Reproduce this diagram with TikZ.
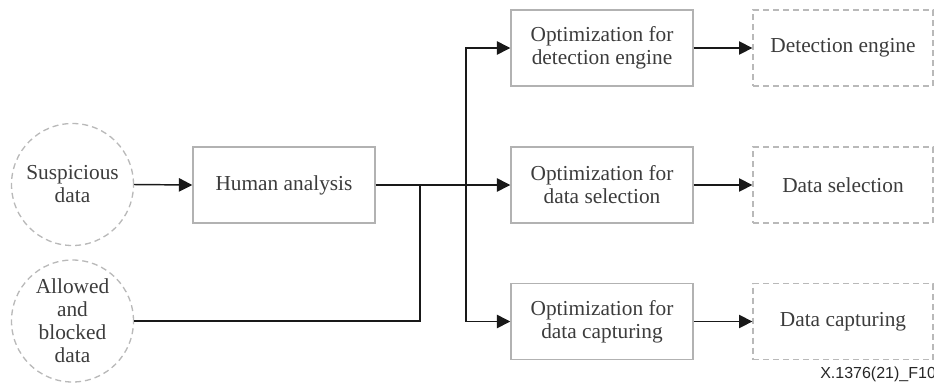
\documentclass[tikz,border=0pt]{standalone}
\usepackage{fontspec}
\setmainfont{Liberation Serif}
\newfontfamily\bodyfont{Liberation Serif}
\newfontfamily\labelfont{Liberation Sans}
\usetikzlibrary{arrows.meta}
\definecolor{txt}{RGB}{60,60,60}
\definecolor{frame}{RGB}{178,178,178}
\definecolor{dashframe}{RGB}{185,185,185}
\definecolor{wire}{RGB}{25,25,25}
\begin{document}
\begin{tikzpicture}[x=0.75pt,y=-0.75pt,
  every node/.style={font=\bodyfont\fontsize{16}{17.25}\selectfont, text=txt, align=center, inner sep=0pt},
  source/.style={circle, draw=dashframe, line width=1pt, dash pattern=on 4.5pt off 3pt, minimum size=91.5pt},
  procbox/.style={rectangle, draw=frame, line width=1.1pt, minimum width=136.5pt, minimum height=57pt},
  targetbox/.style={rectangle, draw=dashframe, line width=1pt, dash pattern=on 4.5pt off 3pt, minimum width=135pt, minimum height=57pt},
  wireline/.style={draw=wire, line width=1.1pt},
  flow/.style={wireline, -{Triangle[length=10pt,width=10pt]}}
]
\useasboundingbox (0,0) rectangle (934,383);

% inputs
\node[source] (susp) at (72.5,184.5) {Suspicious\\data};
\node[source] (allow) at (72.5,321) {Allowed\\and\\blocked\\data};

% analysis
\node[procbox] (human) at (284,185) {Human analysis};

% optimization steps
\node[procbox] (optdet) at (602,48) {Optimization for\\detection engine};
\node[procbox] (optsel) at (602,185) {Optimization for\\data selection};
\node[procbox] (optcap) at (602,321.5) {Optimization for\\data capturing};

% targets
\node[targetbox] (det) at (843,48) {Detection engine};
\node[targetbox] (sel) at (843,185) {Data selection};
\node[targetbox] (cap) at (843,321.5) {Data capturing};

% branch points
\coordinate (merge) at (420,185);
\coordinate (split) at (466,185);

% connectors
\draw[flow] (susp.east) -- (human.west);
\draw[flow] (human.east) -- (optsel.west);
\draw[wireline] (allow.east) -| (merge);
\draw[flow] (split) |- (optdet.west);
\draw[flow] (split) |- (optcap.west);
\draw[flow] (optdet.east) -- (det.west);
\draw[flow] (optsel.east) -- (sel.west);
\draw[flow] (optcap.east) -- (cap.west);

% figure tag
\node[anchor=base west, font=\labelfont\fontsize{12}{14}\selectfont, text=black!85] (tag) at (820,378.3) {X.1376(21)\_F10};
\end{tikzpicture}
\end{document}
